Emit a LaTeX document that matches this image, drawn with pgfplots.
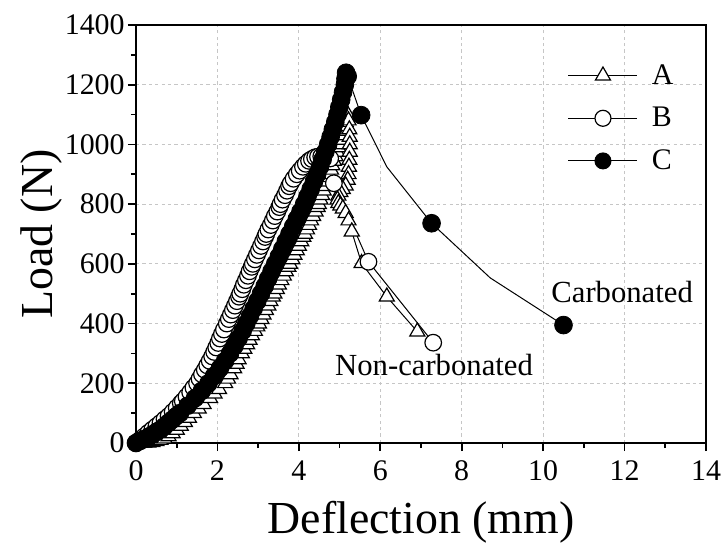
\documentclass[border=0pt]{standalone}
\usepackage{pgfplots}
\pgfplotsset{compat=1.18}
\usepackage{pgfplotstable}
\usepackage{fontspec}
\setmainfont{Liberation Serif}

\pgfplotstableread{
x y
0.2 0
0.3 1
0.4 3
0.5 6
0.6 10
0.7 15
0.8 22
0.9 32
1.0 44
1.1 57
1.2 70
1.3 84
1.42 100
1.54 115
1.66 130
1.82 150
1.93 165
2.04 180
2.19 200
2.26 215
2.32 230
2.41 250
2.47 265
2.52 280
2.60 300
2.66 315
2.73 330
2.79 345
2.85 360
2.92 375
2.98 390
3.02 400
3.08 415
3.13 430
3.19 445
3.25 460
3.30 475
3.36 490
3.40 500
3.46 515
3.51 530
3.57 545
3.63 560
3.68 575
3.74 590
3.78 600
3.84 615
3.89 630
3.95 645
4.00 660
4.06 675
4.11 690
4.15 700
4.20 715
4.25 730
4.30 745
4.35 760
4.41 775
4.46 790
4.49 800
4.53 815
4.57 830
4.61 845
4.65 860
4.69 875
4.72 890
4.75 900
4.79 915
4.82 930
4.86 945
4.90 960
4.94 975
4.97 990
5.00 1000
5.03 1015
5.06 1030
5.09 1045
5.12 1060
5.15 1075
5.18 1090
5.20 1100
5.22 1080
5.24 1050
5.25 1025
5.25 1000
5.25 975
5.24 948
5.23 925
5.22 900
5.20 881
5.15 862
5.08 850
5.02 840
4.97 828
4.95 815
4.97 803
5.02 795
5.08 785
5.15 770
5.22 745
5.30 708
5.54 602
6.16 490
6.91 373
}\dataA

\pgfplotstableread{
x y
0 0
0.1 11
0.2 22
0.3 34
0.4 45
0.5 56
0.6 67
0.7 79
0.8 90
0.9 104
1.0 118
1.1 133
1.15 140
1.24 155
1.33 170
1.41 185
1.50 200
1.56 215
1.62 230
1.69 245
1.75 260
1.81 275
1.87 290
1.92 305
1.97 320
2.02 335
2.06 350
2.11 365
2.16 380
2.23 400
2.28 415
2.33 430
2.38 445
2.43 460
2.48 475
2.53 490
2.56 500
2.61 515
2.65 530
2.70 545
2.75 560
2.79 575
2.84 590
2.87 600
2.92 615
2.97 630
3.02 645
3.07 660
3.12 675
3.17 690
3.20 700
3.25 715
3.31 730
3.36 745
3.41 760
3.47 775
3.52 790
3.55 800
3.60 815
3.66 830
3.71 845
3.76 860
3.80 870
3.87 885
3.95 900
4.02 912
4.10 925
4.17 935
4.25 945
4.32 951
4.40 957
4.47 959
4.55 960
4.62 959
4.70 956
4.77 953
4.86 870
5.71 607
7.30 336
}\dataB

\pgfplotstableread{
x y
0 0
0.1 7
0.2 13
0.3 20
0.4 28
0.5 37
0.6 45
0.7 56
0.8 68
0.9 79
1.0 91
1.08 100
1.27 125
1.45 150
1.62 175
1.78 200
1.92 225
2.06 250
2.19 275
2.31 300
2.42 325
2.52 350
2.62 375
2.71 400
2.80 425
2.89 450
2.98 475
3.07 500
3.16 525
3.245 550
3.33 575
3.42 600
3.51 625
3.595 650
3.68 675
3.77 700
3.86 725
3.95 750
4.04 775
4.13 800
4.21 825
4.29 850
4.37 875
4.45 900
4.52 925
4.585 950
4.65 975
4.72 1000
4.78 1025
4.835 1050
4.895 1075
4.95 1100
4.995 1125
5.04 1150
5.085 1175
5.13 1200
5.145 1220
5.16 1240
5.2 1228
5.53 1098
7.26 736
10.5 395
}\dataCmarks

\pgfplotstableread{
x y
5.16 1240
5.2 1228
5.53 1098
6.16 925
7.26 736
8.7 553
10.5 395
}\dataCline

\begin{document}
\begin{tikzpicture}
\path[use as bounding box] (-68bp,-50.5bp) rectangle (294.5bp,221.5bp);
\begin{axis}[
  at={(0,0)}, anchor=south west,
  scale only axis, width=285bp, height=209bp,
  xmin=0, xmax=14, ymin=0, ymax=1400,
  xtick={0,2,...,14}, ytick={0,200,...,1400},
  minor x tick num=1, minor y tick num=1,
  tick align=outside, xtick pos=bottom, ytick pos=left,
  major tick length=4bp, minor tick length=2.5bp,
  every tick/.style={black, line width=0.8bp},
  axis line style={line width=1.1bp},
  grid=major,
  major grid style={gray!45, line width=0.5bp, dash pattern=on 1.6bp off 1.6bp},
  scaled ticks=false,
  /pgf/number format/1000 sep={},
  /pgf/number format/assume math mode=true,
  tick label style={font=\fontsize{15}{18}\selectfont},
  xticklabel style={yshift=-1.5bp},
  yticklabel style={inner sep=1.5bp},
  xlabel={Deflection (mm)}, ylabel={Load (N)},
  every axis x label/.style={at={(axis description cs:0.5,-0.19)}, anchor=center, font=\fontsize{23}{27}\selectfont},
  every axis y label/.style={at={(axis description cs:-0.165,0.5)}, anchor=center, rotate=90, font=\fontsize{23}{27}\selectfont},
  legend image code/.code={\draw[mark repeat=2,mark phase=2,#1] plot coordinates {(0bp,0bp) (17.25bp,0bp) (34.5bp,0bp)};},
  legend style={draw=none, fill=none, at={(axis cs:10.6,1283)}, anchor=north west, inner sep=0pt, row sep=6bp, column sep=5bp, font=\fontsize{15}{18}\selectfont},
  legend cell align=left,
]
\addplot[forget plot, black, line width=0.5bp, mark=triangle*, mark size=4.33bp, mark options={fill=white, solid, line width=0.6bp}] table {\dataA};
\addplot[forget plot, black, line width=0.5bp, mark=*, mark size=4.15bp, mark options={fill=white, solid, line width=0.6bp}] table {\dataB};
\addplot[forget plot, black, line width=0.5bp, no marks] table {\dataCline};
\addplot[forget plot, only marks, black, mark=*, mark size=4.45bp, mark options={fill=black, solid}] table {\dataCmarks};
\addlegendimage{black, line width=0.5bp, mark=triangle*, mark size=4.33bp, mark options={fill=white, solid, line width=0.6bp}}
\addlegendimage{black, line width=0.5bp, mark=*, mark size=4.0bp, mark options={fill=white, solid, line width=0.6bp}}
\addlegendimage{black, line width=0.5bp, mark=*, mark size=4.0bp, mark options={fill=black, solid}}
\legend{A,B,C}
\node[font=\fontsize{15.4}{18}\selectfont] at (axis cs:11.94,506) {Carbonated};
\node[font=\fontsize{15.4}{18}\selectfont] at (axis cs:7.32,261) {Non-carbonated};
\end{axis}
\end{tikzpicture}
\end{document}
